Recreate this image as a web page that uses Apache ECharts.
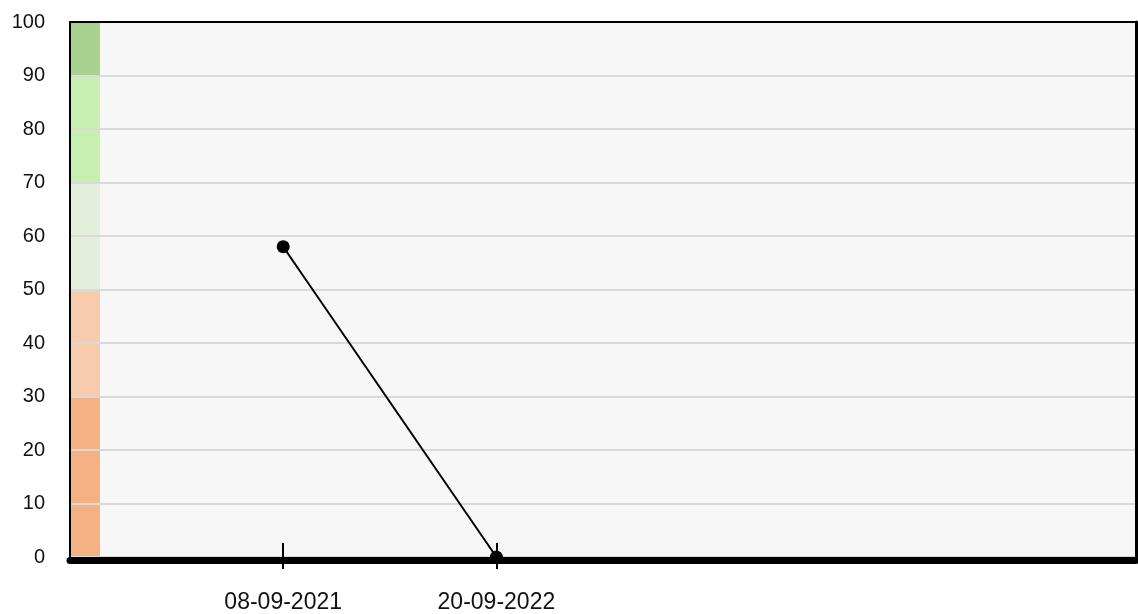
<!DOCTYPE html>
<html><head><meta charset="utf-8">
<script src="https://cdn.jsdelivr.net/npm/echarts@6/dist/echarts.min.js"></script>
<style>html,body{margin:0;padding:0;background:#fff}#c{width:1138px;height:614px}</style>
</head><body><div id="c"></div>
<script>
const categories = ['', '08-09-2021', '20-09-2022', '', '', ''];
const scoreValues = [null, 58, 0, null, null, null];
const yTicks = [0, 10, 20, 30, 40, 50, 60, 70, 80, 90, 100];
const bandSizes = [30, 20, 20, 20, 10];
const bandColors = ['#f4b183', '#f8cbad', '#e2efda', '#c6efb0', '#a9d18e'];

const chart = echarts.init(document.getElementById('c'));
const font = 'Liberation Sans, Arial, sans-serif';
const showTick = (i) => categories[i] !== '';

chart.setOption({
  animation: false,
  grid: [
    {left: 70, right: 2, top: 22, bottom: 57, show: true, backgroundColor: '#f7f7f7', borderWidth: 0},
    {left: 71, width: 29, top: 22, bottom: 57, show: false}
  ],
  xAxis: [
    {type: 'category', gridIndex: 0, position: 'bottom', data: categories, boundaryGap: false, offset: 3, z: 5,
     axisLine: {show: true, onZero: false, lineStyle: {color: '#000', width: 7}},
     axisTick: {show: true, inside: true, length: 17, interval: showTick, lineStyle: {color: '#000', width: 2}},
     axisLabel: {show: true, interval: showTick, margin: 31, fontSize: 23, color: '#111', fontFamily: font},
     splitLine: {show: false}},
    {type: 'category', gridIndex: 0, position: 'bottom', data: categories, boundaryGap: false, offset: 3, z: 5,
     axisLine: {show: false, onZero: false},
     axisTick: {show: true, inside: false, length: 9, interval: showTick, lineStyle: {color: '#000', width: 2}},
     axisLabel: {show: false}, splitLine: {show: false}},
    {type: 'category', gridIndex: 0, position: 'top', data: categories, boundaryGap: false, z: 5,
     axisLine: {show: true, onZero: false, lineStyle: {color: '#000', width: 2}},
     axisTick: {show: false}, axisLabel: {show: false}, splitLine: {show: false}},
    {type: 'category', gridIndex: 1, data: ['band'], show: false}
  ],
  yAxis: [
    {type: 'value', gridIndex: 0, position: 'left', min: 0, max: 100, interval: 10, z: 5,
     axisLine: {show: true, onZero: false, lineStyle: {color: '#000', width: 2}}, axisTick: {show: false},
     axisLabel: {margin: 25, fontSize: 20, color: '#111', fontFamily: font},
     splitLine: {show: false}},
    {type: 'value', gridIndex: 0, position: 'left', min: 0, max: 100, interval: 10, z: 2,
     axisLine: {show: false, onZero: false}, axisTick: {show: false}, axisLabel: {show: false},
     splitLine: {show: true, lineStyle: {color: '#d9d9d9', width: 2}}},
    {type: 'value', gridIndex: 0, position: 'right', min: 0, max: 100, interval: 10, z: 5,
     axisLine: {show: true, onZero: false, lineStyle: {color: '#000', width: 3}}, axisTick: {show: false},
     axisLabel: {show: false}, splitLine: {show: false}},
    {type: 'value', gridIndex: 1, min: 0, max: 100, show: false}
  ],
  series: [
    ...bandSizes.map((v, i) => ({
      type: 'bar', xAxisIndex: 3, yAxisIndex: 3, stack: 'band', barWidth: '100%',
      data: [v], itemStyle: {color: bandColors[i]}, silent: true, z: 1
    })),
    {type: 'line', xAxisIndex: 0, yAxisIndex: 0, data: scoreValues, connectNulls: false,
     symbol: 'circle', symbolSize: 13, z: 10,
     lineStyle: {color: '#000', width: 2}, itemStyle: {color: '#000'}}
  ]
});
</script></body></html>
